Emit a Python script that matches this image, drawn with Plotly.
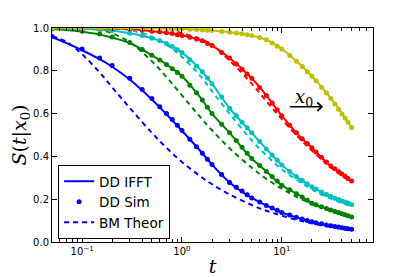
import plotly.graph_objects as go

# ---------------- data ----------------
T_LINE = [0.05, 0.07, 0.1, 0.15, 0.2, 0.3, 0.5, 0.7, 1, 1.5, 2, 3, 5, 7, 10, 15, 20, 30, 50]

BLUE_IFFT = [0.957, 0.929, 0.896, 0.854, 0.819, 0.759, 0.666, 0.597, 0.52, 0.43, 0.362, 0.278, 0.206, 0.171, 0.138, 0.111, 0.095, 0.077, 0.059]
GREEN_IFFT = [0.995, 0.99, 0.983, 0.97, 0.955, 0.93, 0.872, 0.83, 0.775, 0.68, 0.6, 0.51, 0.39, 0.33, 0.265, 0.218, 0.181, 0.152, 0.117]
CYAN_IFFT = [1.0, 0.999, 0.997, 0.993, 0.988, 0.975, 0.952, 0.928, 0.885, 0.81, 0.74, 0.625, 0.51, 0.435, 0.36, 0.295, 0.258, 0.215, 0.175]
RED_IFFT = [1.0, 1.0, 1.0, 0.999, 0.998, 0.995, 0.985, 0.978, 0.965, 0.945, 0.918, 0.86, 0.765, 0.685, 0.59, 0.495, 0.44, 0.36, 0.285]
YELLOW_IFFT = [1.0, 1.0, 1.0, 1.0, 1.0, 1.0, 0.999, 0.998, 0.996, 0.992, 0.988, 0.98, 0.965, 0.945, 0.902, 0.833, 0.775, 0.68, 0.535]

BLUE_BM = [0.962, 0.935, 0.877, 0.792, 0.723, 0.627, 0.51, 0.44, 0.374, 0.31, 0.27, 0.222, 0.173, 0.146, 0.123, 0.1, 0.087, 0.071, 0.055]
GREEN_BM = [1.0, 1.0, 0.998, 0.99, 0.975, 0.934, 0.845, 0.771, 0.685, 0.588, 0.522, 0.438, 0.347, 0.295, 0.249, 0.204, 0.178, 0.146, 0.113]
CYAN_BM = [1.0, 1.0, 1.0, 1.0, 0.998, 0.99, 0.96, 0.922, 0.865, 0.78, 0.705, 0.6, 0.475, 0.405, 0.34, 0.282, 0.246, 0.205, 0.166]
RED_BM = [1.0, 1.0, 1.0, 1.0, 1.0, 1.0, 1.0, 0.998, 0.975, 0.95, 0.92, 0.848, 0.74, 0.658, 0.574, 0.485, 0.427, 0.354, 0.278]

T_SIM = [0.05, 0.1, 0.15, 0.2, 0.3, 0.4, 0.5, 0.6, 0.7, 0.8, 0.9, 1.0, 1.2, 1.4, 1.6, 1.8, 2.0, 2.5,
         3.0, 3.5, 4.0, 4.5, 5, 6, 7, 8, 9, 10, 12, 14, 16, 18, 20, 22, 25, 28, 31, 34, 37, 40, 43, 46, 50]

BLUE_SIM = [0.96, 0.902, 0.86, 0.825, 0.765, 0.713, 0.67, 0.632, 0.6, 0.572, 0.545, 0.521, 0.48, 0.445, 0.415, 0.387, 0.362, 0.316,
            0.278, 0.256, 0.238, 0.221, 0.206, 0.187, 0.171, 0.159, 0.148, 0.138, 0.126, 0.116, 0.107, 0.1, 0.095, 0.09, 0.085, 0.08,
            0.076, 0.073, 0.07, 0.067, 0.064, 0.062, 0.059]
GREEN_SIM = [0.995, 0.985, 0.972, 0.958, 0.932, 0.9, 0.873, 0.85, 0.83, 0.81, 0.792, 0.775, 0.733, 0.697, 0.663, 0.63, 0.6, 0.55,
             0.51, 0.474, 0.443, 0.415, 0.39, 0.357, 0.33, 0.306, 0.285, 0.265, 0.244, 0.226, 0.21, 0.195, 0.181, 0.174, 0.165, 0.157,
             0.15, 0.143, 0.138, 0.132, 0.127, 0.123, 0.117]
CYAN_SIM = [1.0, 0.997, 0.993, 0.988, 0.975, 0.965, 0.952, 0.94, 0.928, 0.913, 0.898, 0.885, 0.852, 0.823, 0.795, 0.766, 0.74, 0.677,
            0.625, 0.59, 0.56, 0.534, 0.51, 0.47, 0.435, 0.407, 0.382, 0.36, 0.33, 0.306, 0.287, 0.272, 0.258, 0.248, 0.234, 0.222,
            0.213, 0.205, 0.199, 0.192, 0.187, 0.182, 0.175]
RED_SIM = [1.0, 1.0, 0.999, 0.998, 0.995, 0.99, 0.985, 0.982, 0.978, 0.974, 0.969, 0.965, 0.957, 0.949, 0.94, 0.928, 0.918, 0.886,
           0.86, 0.832, 0.807, 0.785, 0.765, 0.722, 0.685, 0.65, 0.618, 0.59, 0.545, 0.51, 0.483, 0.46, 0.44, 0.421, 0.396, 0.374,
           0.355, 0.342, 0.329, 0.318, 0.307, 0.297, 0.285]
YELLOW_SIM = [1.0, 1.0, 1.0, 1.0, 1.0, 1.0, 0.999, 0.999, 0.998, 0.997, 0.997, 0.996, 0.994, 0.993, 0.991, 0.99, 0.988, 0.984,
              0.98, 0.977, 0.973, 0.969, 0.965, 0.956, 0.945, 0.93, 0.915, 0.902, 0.871, 0.845, 0.82, 0.796, 0.775, 0.753, 0.723, 0.696,
              0.67, 0.645, 0.62, 0.598, 0.578, 0.559, 0.535]

X_TICKS = [0.1, 1, 10]
X_TICK_TEXT = ["10<sup>\u22121</sup>", "10<sup>0</sup>", "10<sup>1</sup>"]
Y_TICKS = [0.0, 0.2, 0.4, 0.6, 0.8, 1.0]
MINOR_X = [0.05, 0.06, 0.07, 0.08, 0.09, 0.2, 0.3, 0.4, 0.5, 0.6, 0.7, 0.8, 0.9,
           2, 3, 4, 5, 6, 7, 8, 9, 20, 30, 40, 50, 60, 70, 80]

SERIES = [
    ("#0000ff", BLUE_IFFT, BLUE_SIM, BLUE_BM),
    ("#008000", GREEN_IFFT, GREEN_SIM, GREEN_BM),
    ("#00bfbf", CYAN_IFFT, CYAN_SIM, CYAN_BM),
    ("#ff0000", RED_IFFT, RED_SIM, RED_BM),
    ("#bfbf00", YELLOW_IFFT, YELLOW_SIM, None),
]

fig = go.Figure()
for i, (col, ifft, sim, bm) in enumerate(SERIES):
    first = i == 0
    fig.add_trace(go.Scatter(x=T_LINE, y=ifft, mode="lines", line=dict(color=col, width=2, shape="spline"),
                             name="DD IFFT", showlegend=first))
    fig.add_trace(go.Scatter(x=T_SIM, y=sim, mode="markers", marker=dict(color=col, size=5, line=dict(width=0)),
                             name="DD Sim", showlegend=first))
    if bm is not None:
        fig.add_trace(go.Scatter(x=T_LINE, y=bm, mode="lines",
                                 line=dict(color=col, width=2, dash="5px,4px", shape="spline"),
                                 name="BM Theor", showlegend=first))

axis_common = dict(showline=True, linecolor="black", linewidth=1, mirror="ticks", ticks="inside",
                   tickcolor="black", showgrid=False, zeroline=False, automargin=False,
                   tickfont=dict(family="DejaVu Sans", size=10, color="black"))

fig.update_xaxes(type="log", range=[-1.30103, 1.913], tickvals=X_TICKS, ticktext=X_TICK_TEXT, ticklen=5,
                 minor=dict(ticks="inside", ticklen=3, tickcolor="black", tickvals=MINOR_X, showgrid=False),
                 title=dict(text="<i>t</i>", font=dict(family="DejaVu Serif", size=19, color="black"), standoff=4),
                 **axis_common)
fig.update_yaxes(range=[0, 1.0], tickvals=Y_TICKS, tickformat=".1f", ticklen=5,
                 title=dict(text="<i>S</i>(<i>t</i>|<i>x</i><sub>0</sub>)",
                            font=dict(family="DejaVu Serif", size=19, color="black"), standoff=4),
                 **axis_common)

# x0 arrow annotation
fig.add_annotation(x=1.413, y=0.632, ax=1.065, ay=0.632, xref="x", yref="y", axref="x", ayref="y",
                   text="", showarrow=True, arrowhead=4, arrowsize=1.3, arrowwidth=1.3, arrowcolor="black")
fig.add_annotation(x=1.223, y=0.675, xref="x", yref="y", text="<i>x</i><sub>0</sub>", showarrow=False,
                   font=dict(family="DejaVu Serif", size=18, color="black"))

# the page body adds an 8px margin; the figure is sized to fit the window
fig.update_layout(
    width=407, height=269,
    margin=dict(l=44, r=42, t=20, b=35),
    paper_bgcolor="white", plot_bgcolor="white",
    legend=dict(x=0.019, y=0.36, xanchor="left", yanchor="top", bgcolor="white",
                bordercolor="black", borderwidth=1, font=dict(family="DejaVu Sans", size=13.5, color="black"),
                itemwidth=30, tracegroupgap=0),
    showlegend=True,
)

fig.write_html("out.html")
